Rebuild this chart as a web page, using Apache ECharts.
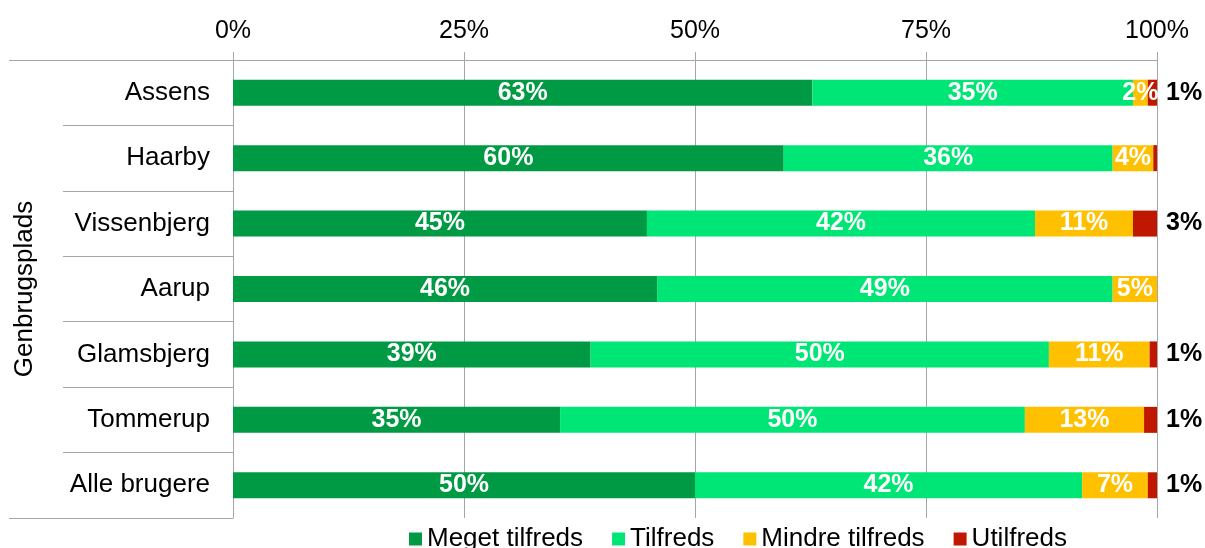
<!DOCTYPE html>
<html>
<head>
<meta charset="utf-8">
<script src="https://cdn.jsdelivr.net/npm/echarts@6/dist/echarts.min.js"></script>
<style>
  html, body { margin: 0; padding: 0; background: #fff; }
  #main { width: 1205px; height: 548px; }
</style>
</head>
<body>
<div id="main"></div>
<script>
var categories = ['Assens', 'Haarby', 'Vissenbjerg', 'Aarup', 'Glamsbjerg', 'Tommerup', 'Alle brugere'];
var seriesNames = ['Meget tilfreds', 'Tilfreds', 'Mindre tilfreds', 'Utilfreds'];
var megetTilfreds = [62.7, 59.6, 44.8, 45.9, 38.7, 35.4, 50.0];
var tilfreds = [34.7, 35.6, 42.0, 49.3, 49.6, 50.3, 41.9];
var mindreTilfreds = [1.6, 4.4, 10.6, 4.8, 10.9, 12.9, 7.1];
var utilfreds = [1.0, 0.4, 2.6, 0.0, 0.8, 1.4, 1.0];
var xTicks = [0, 25, 50, 75, 100];

var colors = ['#009a44', '#00e676', '#ffc000', '#c01800'];
var font = 'Liberation Sans, Arial, sans-serif';
var gray = '#a6a6a6';

var chart = echarts.init(document.getElementById('main'));

function pctLabel(p) {
    var v = p.value;
    if (v < 0.5) return '';
    return Math.round(v) + '%';
}

function makeSeries(name, data, idx) {
    var inside = idx < 3;
    return {
        name: name,
        type: 'bar',
        stack: 'total',
        barWidth: 26,
        data: data,
        itemStyle: { color: colors[idx] },
        label: {
            show: true,
            position: inside ? 'inside' : 'right',
            distance: 9,
            formatter: pctLabel,
            color: inside ? '#fff' : '#000',
            fontWeight: 'bold',
            fontSize: 25,
            fontFamily: font
        },
        labelLayout: { hideOverlap: false }
    };
}

var option = {
    backgroundColor: '#fff',
    animation: false,
    textStyle: { fontFamily: font },
    grid: { left: 233, right: 48, top: 60, height: 458, containLabel: false },
    legend: {
        top: 521,
        left: 404,
        itemWidth: 13,
        itemHeight: 13,
        itemGap: 29,
        icon: 'rect',
        textStyle: { fontSize: 26, color: '#000', fontFamily: font },
        data: seriesNames
    },
    xAxis: {
        type: 'value',
        position: 'top',
        min: xTicks[0],
        max: xTicks[xTicks.length - 1],
        interval: 25,
        axisLine: { show: true, lineStyle: { color: gray } },
        axisTick: { show: true, length: 8, lineStyle: { color: gray } },
        axisLabel: {
            fontSize: 25,
            color: '#000',
            margin: 16,
            fontFamily: font,
            formatter: '{value}%'
        },
        splitLine: { lineStyle: { color: gray, width: 1 } }
    },
    yAxis: {
        type: 'category',
        inverse: true,
        data: categories,
        name: 'Genbrugsplads',
        nameLocation: 'middle',
        nameRotate: 90,
        nameGap: 195,
        nameTextStyle: { fontSize: 26, color: '#000', fontFamily: font },
        axisLine: { lineStyle: { color: gray } },
        axisTick: { show: true, length: 170, interval: 0, lineStyle: { color: gray } },
        axisLabel: { fontSize: 26, color: '#000', margin: 23, fontFamily: font }
    },
    graphic: [
        { type: 'line', shape: { x1: 9, y1: 60.5, x2: 233, y2: 60.5 }, style: { stroke: gray, lineWidth: 1 } },
        { type: 'line', shape: { x1: 9, y1: 518.5, x2: 233, y2: 518.5 }, style: { stroke: gray, lineWidth: 1 } }
    ],
    series: [
        makeSeries(seriesNames[0], megetTilfreds, 0),
        makeSeries(seriesNames[1], tilfreds, 1),
        makeSeries(seriesNames[2], mindreTilfreds, 2),
        makeSeries(seriesNames[3], utilfreds, 3)
    ]
};

chart.setOption(option);
</script>
</body>
</html>
